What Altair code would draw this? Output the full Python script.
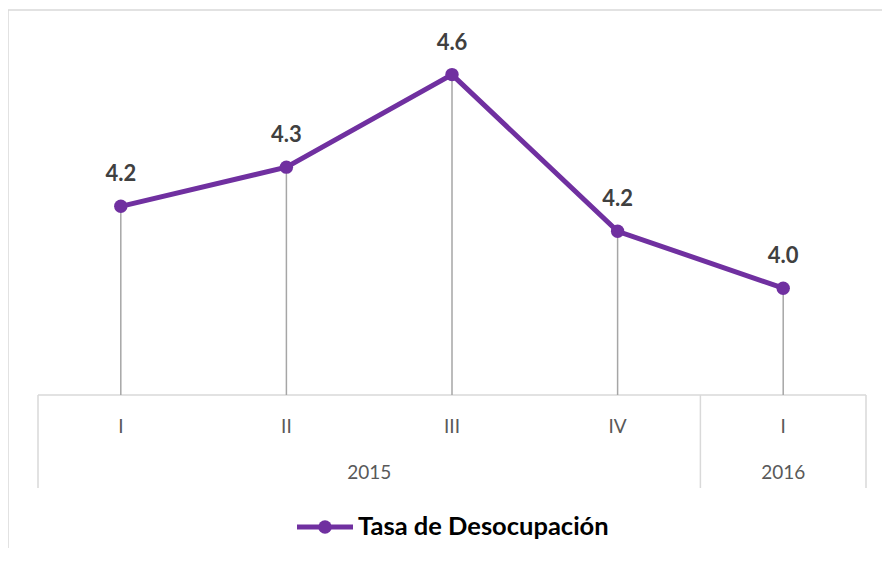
import altair as alt
import pandas as pd

# ---- data ----
quarters = ["I", "II", "III", "IV", "I"]
years = ["2015", "2015", "2015", "2015", "2016"]
values = [4.23, 4.34, 4.60, 4.16, 4.00]
series_name = "Tasa de Desocupación"
y_min, y_max = 3.7, 4.7

idx = list(range(len(quarters)))
df = pd.DataFrame({"idx": idx, "quarter": quarters, "year": years, "value": values})

ydf = df.groupby("year", sort=False)["idx"].agg(["min", "max", "mean"]).reset_index()
year_df = pd.DataFrame({"year": ydf["year"], "center": ydf["mean"]})
bounds = sorted(set([v - 0.5 for v in ydf["min"]] + [v + 0.5 for v in ydf["max"]]))
bound_df = pd.DataFrame({"b": bounds})
legend_df = pd.DataFrame({"serie": [series_name]})

W, H = 828, 356
PURPLE = "#7030A0"
FONT = "Lato"

xs = alt.Scale(domain=[-0.5, len(quarters) - 0.5], nice=False, zero=False)
ys = alt.Scale(domain=[y_min, y_max], nice=False, zero=False)
X = alt.X("idx:Q", scale=xs, axis=None)
Y = alt.Y("value:Q", scale=ys, axis=None)

base = alt.Chart(df)

drops = base.mark_rule(color="#A6A6A6", strokeWidth=1.5).encode(
    x=X, y=Y, y2=alt.datum(y_min)
)
line = base.mark_line(color=PURPLE, strokeWidth=5).encode(x=X, y=Y)
pts = base.mark_point(filled=True, color=PURPLE, size=180, opacity=1).encode(x=X, y=Y)
labels = base.mark_text(
    font=FONT, fontWeight="bold", fontSize=22, color="#404040", baseline="alphabetic", dy=-25
).encode(x=X, y=Y, text=alt.Text("value:Q", format=".1f"))

axis_line = alt.Chart(legend_df).mark_rule(color="#D9D9D9", strokeWidth=1.5).encode(
    x=alt.value(0), x2=alt.value(W), y=alt.value(H)
)
seps = alt.Chart(bound_df).mark_rule(color="#D9D9D9", strokeWidth=1.5).encode(
    x=alt.X("b:Q", scale=xs, axis=None), y=alt.value(H), y2=alt.value(H + 93)
)
qlabels = base.mark_text(font=FONT, fontSize=19, color="#595959", baseline="middle").encode(
    x=X, y=alt.value(H + 32), text="quarter:N"
)
ylabels = alt.Chart(year_df).mark_text(font=FONT, fontSize=19, color="#595959", baseline="middle").encode(
    x=alt.X("center:Q", scale=xs, axis=None), y=alt.value(H + 78), text="year:N"
)

# outer frame (top and left edges visible)
frame_top = alt.Chart(legend_df).mark_rule(color="#D9D9D9", strokeWidth=1.5).encode(
    x=alt.value(-30), x2=alt.value(W + 16), y=alt.value(-29)
)
frame_left = alt.Chart(legend_df).mark_rule(color="#D9D9D9", strokeWidth=1.5).encode(
    x=alt.value(-30), y=alt.value(-29), y2=alt.value(H + 153)
)

# legend
leg_line = alt.Chart(legend_df).mark_rule(color=PURPLE, strokeWidth=5).encode(
    x=alt.value(259), x2=alt.value(315), y=alt.value(H + 132)
)
leg_pt = alt.Chart(legend_df).mark_point(filled=True, color=PURPLE, size=180, opacity=1).encode(
    x=alt.value(287), y=alt.value(H + 132)
)
leg_text = alt.Chart(legend_df).mark_text(
    font=FONT, fontWeight="bold", fontSize=25.5, color="#000000", align="left", baseline="middle"
).encode(x=alt.value(320), y=alt.value(H + 132), text="serie:N")

chart = alt.layer(
    frame_top, frame_left, axis_line, seps, drops, line, pts, labels, qlabels, ylabels,
    leg_line, leg_pt, leg_text
).properties(
    width=W, height=H,
    autosize=alt.AutoSizeParams(type="none"),
    padding={"left": 30, "top": 31, "right": 16, "bottom": 153},
).configure_view(stroke=None)

chart.save("out.html", embed_options={"renderer": "svg", "actions": False})
